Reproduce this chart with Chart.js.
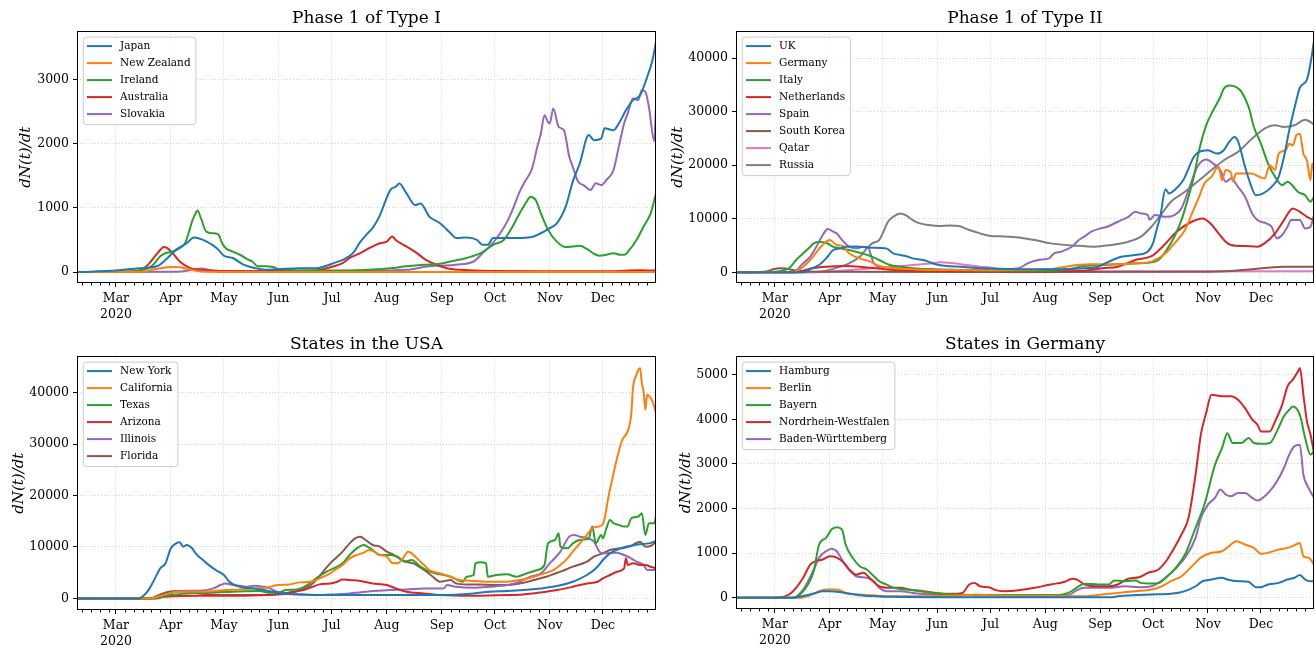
<!DOCTYPE html>
<html>
<head>
<meta charset="utf-8">
<script src="https://cdn.jsdelivr.net/npm/chart.js@4.4.1/dist/chart.umd.min.js"></script>
<style>
  body { margin: 0; background: #fff; }
  #wrap { position: relative; width: 1315px; height: 652px; }
  canvas { position: absolute; }
</style>
</head>
<body>
<div id="wrap">
  <canvas id="c1" width="658" height="326" style="left:0;top:0"></canvas>
  <canvas id="c2" width="655" height="326" style="left:660px;top:0"></canvas>
  <canvas id="c3" width="658" height="326" style="left:0;top:326px"></canvas>
  <canvas id="c4" width="655" height="326" style="left:660px;top:326px"></canvas>
</div>
<script>
// days counted from 1 Jan 2020 (= 0)
const dayMin = 38, dayMax = 365;
const monthStarts = [60, 91, 121, 152, 182, 213, 244, 274, 305, 335];
const monthLabels = [['Mar', '2020'], 'Apr', 'May', 'Jun', 'Jul', 'Aug', 'Sep', 'Oct', 'Nov', 'Dec'];
const colors = ['#1f77b4', '#ff7f0e', '#2ca02c', '#d62728', '#9467bd', '#8c564b', '#e377c2', '#7f7f7f'];

// ---- Phase 1 of Type I ----
const type1Names = ['Japan', 'New Zealand', 'Ireland', 'Australia', 'Slovakia'];
const type1Ticks = [0, 1000, 2000, 3000];
const japan = [[38,0],[60,25],[73,60],[83,90],[88,190],[94,350],[100,450],[104,540],[111,480],[117,373],[121,255],[126,220],[132,115],[139,60],[145,35],[152,45],[164,60],[173,60],[179,100],[183,140],[188,190],[194,300],[198,470],[202,600],[205,690],[209,880],[211,1020],[215,1280],[218,1330],[220,1380],[224,1230],[229,1045],[232,1070],[237,865],[243,760],[249,605],[252,530],[258,540],[264,500],[267,425],[270,425],[273,530],[279,530],[285,530],[296,555],[300,605],[305,685],[309,760],[314,1020],[318,1410],[322,1695],[327,2135],[330,2055],[334,2080],[336,2240],[341,2210],[344,2315],[348,2520],[352,2680],[356,2755],[360,3040],[363,3300],[365,3585]];
const newZealand = [[38,0],[75,5],[81,40],[86,65],[92,80],[96,75],[100,50],[105,20],[111,5],[130,2],[365,3]];
const ireland = [[38,0],[60,5],[73,25],[78,60],[81,115],[85,245],[88,295],[92,320],[96,373],[99,450],[101,605],[103,790],[105,915],[106,960],[108,840],[111,630],[115,605],[118,580],[120,450],[122,373],[126,320],[130,270],[135,190],[137,165],[140,90],[145,90],[149,75],[152,45],[158,35],[164,25],[190,25],[205,40],[215,60],[224,90],[234,115],[243,130],[249,165],[258,220],[266,295],[273,425],[279,500],[284,710],[288,915],[292,1100],[294,1175],[297,1125],[300,915],[304,660],[309,475],[314,390],[318,400],[322,410],[326,360],[330,285],[333,255],[337,270],[341,295],[345,270],[347,270],[350,345],[354,500],[358,710],[362,915],[365,1230]];
const australia = [[38,0],[70,5],[75,45],[79,140],[82,245],[85,345],[87,390],[89,373],[92,295],[96,165],[100,90],[104,45],[111,25],[130,15],[173,25],[179,60],[183,90],[188,140],[192,220],[198,295],[203,373],[209,450],[213,475],[216,555],[218,500],[224,400],[230,295],[235,190],[241,115],[247,60],[254,35],[266,20],[300,15],[340,15],[355,30],[360,25],[365,25]];
const slovakia = [[38,0],[95,5],[102,30],[108,55],[114,30],[120,15],[200,20],[224,35],[237,90],[243,100],[252,115],[262,165],[267,295],[272,425],[277,605],[281,790],[284,970],[288,1255],[291,1410],[295,1615],[298,1955],[300,2160],[302,2445],[304,2340],[305,2315],[307,2550],[310,2265],[313,2210],[316,1800],[318,1640],[321,1410],[324,1355],[328,1280],[331,1385],[334,1355],[337,1435],[341,1590],[344,1955],[347,2315],[349,2470],[352,2705],[355,2680],[357,2835],[359,2810],[361,2575],[364,2040],[365,2550]];

// ---- Phase 1 of Type II ----
const type2Names = ['UK', 'Germany', 'Italy', 'Netherlands', 'Spain', 'South Korea', 'Qatar', 'Russia'];
const type2Ticks = [0, 10000, 20000, 30000, 40000];
const uk = [[38,0],[76,0],[81,750],[85,1370],[89,2600],[93,4160],[97,4470],[100,4780],[106,4800],[115,4600],[123,4470],[127,3540],[131,3230],[134,3040],[138,2600],[144,2300],[151,1490],[157,1180],[165,1050],[172,870],[182,700],[198,560],[216,560],[235,750],[243,1050],[249,2000],[256,2900],[264,3230],[271,3900],[274,5500],[276,8000],[278,10400],[281,15500],[283,14700],[286,15340],[291,17200],[297,21550],[300,22480],[305,22800],[310,22180],[314,22800],[317,24350],[320,25270],[322,24500],[326,19680],[329,16580],[332,14400],[336,14700],[341,15960],[345,17830],[348,21550],[351,26520],[355,32100],[357,34500],[361,36000],[363,38950],[365,43300]];
const germany = [[38,0],[70,0],[76,1050],[80,2300],[83,3540],[87,5100],[91,6030],[95,5100],[99,4780],[102,3540],[108,2600],[114,2000],[119,1180],[127,750],[138,560],[150,430],[182,400],[215,600],[231,1370],[239,1490],[254,1490],[266,1680],[273,2000],[281,3540],[286,5400],[292,7900],[296,11000],[300,14100],[303,16600],[307,17830],[311,19700],[313,17200],[315,19100],[318,18600],[319,17000],[321,18450],[330,18450],[333,18000],[337,17500],[340,20000],[343,19100],[345,22180],[349,22800],[351,24000],[353,23700],[355,25600],[357,25900],[359,22180],[361,20900],[363,17200],[364,20300],[365,19100]];
const italy = [[38,0],[60,100],[64,300],[68,750],[72,2300],[76,3540],[80,4780],[82,5400],[85,5650],[89,5530],[93,4780],[97,4470],[102,4160],[108,3660],[114,3040],[119,2300],[125,1370],[131,1050],[138,750],[149,560],[165,430],[182,310],[215,300],[226,560],[235,1180],[245,1370],[254,1490],[264,1680],[271,1800],[277,2300],[281,3850],[286,6650],[290,9750],[294,14100],[297,17830],[300,22800],[304,27460],[308,30260],[312,32740],[314,34300],[317,34900],[321,34600],[324,33700],[328,30900],[331,27150],[335,24000],[339,20300],[343,17830],[347,16280],[350,16900],[352,16500],[356,15000],[360,14400],[363,13170],[365,14100]];
const netherlands = [[38,0],[72,0],[76,300],[81,750],[89,1050],[100,1180],[108,1050],[117,750],[127,430],[150,250],[200,150],[235,300],[245,750],[254,1050],[264,2300],[273,3000],[280,5000],[287,7500],[295,9300],[302,10060],[306,9260],[311,7270],[315,5720],[318,5100],[326,4900],[333,4780],[337,5400],[343,7270],[348,9750],[353,11930],[357,11300],[361,10370],[365,9750]];
const spain = [[38,0],[70,0],[76,1680],[80,2920],[83,4470],[86,6340],[89,7900],[90,8100],[93,7580],[95,7270],[98,6030],[102,4780],[106,4470],[110,4780],[113,4600],[114,3540],[116,1680],[119,1050],[127,750],[146,560],[165,430],[182,500],[198,750],[203,1680],[209,2300],[215,2600],[218,3540],[222,3850],[228,4780],[232,6030],[235,6650],[239,7580],[244,8200],[248,8510],[254,9440],[260,10370],[264,11300],[267,11000],[271,10690],[272,9800],[275,10690],[281,10370],[286,10690],[290,11930],[294,15350],[299,19700],[304,21060],[308,20300],[312,19100],[315,16900],[318,17500],[322,15970],[326,14100],[330,11000],[333,9750],[338,9130],[341,8510],[344,6340],[347,6960],[350,8510],[352,9750],[357,9750],[360,8200],[363,8500],[365,10690]];
const southKorea = [[38,0],[50,50],[55,150],[59,560],[63,750],[66,690],[70,430],[76,190],[90,100],[200,60],[300,80],[311,150],[320,300],[330,560],[339,870],[348,1050],[365,1050]];
const qatar = [[38,0],[80,20],[89,120],[108,560],[127,1050],[138,1370],[149,1680],[153,1860],[161,1680],[168,1370],[176,1050],[182,870],[188,560],[198,300],[215,200],[365,200]];
const russia = [[38,0],[76,0],[89,300],[97,1050],[102,1680],[108,2920],[112,4470],[115,5400],[119,6030],[121,7270],[124,9440],[127,10370],[131,11000],[134,10690],[138,9750],[142,9130],[147,8820],[153,8640],[159,8760],[164,8640],[170,7890],[176,7270],[182,6800],[190,6700],[198,6520],[207,6030],[216,5400],[230,4970],[241,4780],[250,5100],[260,5720],[267,6650],[273,8510],[279,11000],[284,13170],[292,15040],[299,16900],[307,19100],[314,20940],[322,22500],[330,24980],[337,26840],[343,27460],[348,27150],[354,27460],[360,28500],[365,27650]];

// ---- States in the USA ----
const usaNames = ['New York', 'California', 'Texas', 'Arizona', 'Illinois', 'Florida'];
const usaTicks = [0, 10000, 20000, 30000, 40000];
const newYork = [[38,0],[73,0],[76,650],[79,1950],[82,3900],[85,5840],[88,6820],[89,7790],[91,9740],[94,10700],[96,10900],[98,10070],[100,10400],[103,9740],[105,8770],[108,7790],[112,6620],[115,5840],[118,5200],[121,4550],[124,3250],[130,2270],[138,1950],[143,1620],[149,1300],[154,970],[164,780],[183,650],[243,650],[262,970],[271,1300],[281,1430],[290,1620],[300,1950],[309,2400],[318,3250],[326,4550],[332,6170],[335,7470],[339,8770],[345,9740],[351,10260],[356,10520],[361,10700],[365,11170]];
const california = [[38,0],[79,0],[88,780],[94,1300],[107,1300],[115,1430],[122,1620],[130,1750],[138,1950],[145,2080],[151,2600],[158,2730],[164,3120],[170,3250],[175,3900],[181,4870],[185,5840],[188,6500],[192,7790],[196,8440],[200,8900],[203,9420],[206,9090],[209,8440],[213,8120],[216,6900],[219,6820],[222,7790],[225,9090],[227,8770],[230,7790],[234,6500],[237,5520],[243,4870],[249,4220],[254,3570],[258,3500],[262,3380],[271,3250],[281,3250],[288,3570],[296,4220],[302,4870],[307,5520],[311,6500],[315,7790],[318,9090],[322,10700],[326,12340],[329,13640],[332,13960],[335,14420],[336,15590],[338,19480],[340,22730],[343,27270],[346,30850],[349,32470],[351,35720],[352,40910],[354,43510],[356,44810],[357,41890],[358,40260],[359,36690],[360,39610],[363,38310],[365,36040]];
const texas = [[38,0],[83,0],[88,520],[94,780],[100,970],[126,1300],[141,1430],[147,1100],[151,1100],[156,1620],[162,1750],[168,2600],[173,3900],[179,5200],[185,6170],[188,6820],[192,8440],[196,9740],[200,10390],[202,10070],[205,9420],[209,8440],[215,8440],[219,8120],[223,7140],[227,7470],[232,6170],[237,5200],[243,4680],[249,4220],[253,3570],[256,3250],[258,4220],[262,4550],[263,6820],[266,7010],[269,6820],[270,4220],[275,4550],[281,4680],[286,4220],[292,4870],[298,5520],[302,6500],[304,10700],[308,11360],[310,12660],[311,10070],[315,9740],[318,10700],[322,11360],[327,11690],[329,13960],[331,10700],[334,12340],[335,11690],[337,13640],[339,15260],[341,14610],[344,14290],[347,13960],[349,14000],[351,15590],[355,15910],[357,16560],[359,12340],[361,14610],[364,14610],[365,15910]];
const arizona = [[38,0],[80,0],[88,320],[107,520],[126,520],[145,650],[154,970],[160,1300],[166,1620],[171,2270],[175,2730],[181,2920],[185,3250],[188,3700],[192,3570],[198,3380],[205,2920],[213,2600],[218,1950],[224,1300],[234,970],[243,650],[262,520],[281,650],[290,780],[300,1170],[309,1620],[318,2270],[326,2920],[332,3250],[335,3900],[339,4550],[343,5200],[347,5840],[348,7790],[349,6500],[352,6820],[356,6500],[359,6500],[362,6170],[365,5840]];
const illinois = [[38,0],[79,0],[88,780],[94,1300],[100,1500],[107,1500],[115,1950],[119,2600],[122,2920],[126,2600],[130,2470],[134,2270],[138,2470],[143,2270],[147,1950],[151,1300],[156,970],[164,780],[173,650],[183,780],[192,970],[196,1100],[205,1430],[215,1620],[224,1750],[234,1950],[245,1950],[247,2600],[252,2270],[262,2080],[271,2270],[281,2600],[288,3250],[294,4220],[300,4870],[305,6820],[311,9090],[316,12010],[319,12340],[322,12000],[326,11690],[330,11040],[333,9090],[335,8770],[343,8900],[347,8440],[351,7790],[354,7140],[358,6500],[360,5520],[365,5520]];
const florida = [[38,0],[79,0],[85,780],[90,1300],[94,1430],[100,1300],[107,970],[115,780],[126,650],[141,650],[152,780],[158,970],[164,1620],[170,2600],[173,3570],[177,5200],[181,6820],[185,8120],[188,9090],[192,10700],[195,11690],[198,12010],[201,11360],[205,10390],[209,10070],[213,9090],[217,8440],[220,7790],[224,7140],[228,6820],[234,5520],[239,4220],[243,3250],[249,3570],[252,2920],[258,2730],[266,2730],[273,2600],[281,2600],[288,2920],[296,3570],[303,4220],[311,5200],[318,6170],[326,7140],[330,8120],[335,8770],[339,9420],[345,9740],[350,10070],[356,11040],[359,10070],[362,10200],[365,11040]];

// ---- States in Germany ----
const deNames = ['Hamburg', 'Berlin', 'Bayern', 'Nordrhein-Westfalen', 'Baden-Württemberg'];
const deTicks = [0, 1000, 2000, 3000, 4000, 5000];
const hamburg = [[38,0],[70,0],[78,60],[83,110],[87,150],[91,150],[95,135],[100,110],[108,60],[117,37],[127,22],[150,15],[250,15],[254,37],[273,75],[284,90],[292,150],[298,260],[302,373],[307,410],[313,450],[316,410],[322,373],[328,360],[332,240],[335,240],[339,300],[345,335],[350,410],[354,450],[357,510],[360,410],[363,373],[365,373]];
const berlin = [[38,0],[74,0],[82,90],[85,150],[89,185],[93,185],[97,165],[100,110],[108,75],[117,52],[127,37],[146,37],[165,52],[174,75],[182,50],[235,37],[245,75],[254,110],[264,150],[273,185],[279,260],[284,373],[290,485],[296,710],[301,900],[307,1010],[313,1045],[317,1160],[321,1270],[326,1195],[331,1120],[335,985],[339,1010],[345,1080],[350,1120],[353,1160],[357,1230],[359,930],[362,900],[365,745]];
const bayern = [[38,0],[70,0],[76,150],[82,600],[85,1195],[89,1345],[92,1530],[95,1580],[98,1530],[100,1195],[104,900],[108,710],[112,635],[116,485],[119,373],[123,300],[127,225],[134,185],[142,150],[149,110],[161,75],[174,60],[220,60],[226,110],[232,260],[235,315],[243,300],[249,300],[252,390],[258,373],[264,390],[267,335],[273,320],[277,330],[282,485],[286,635],[292,970],[298,1570],[303,2090],[309,2985],[313,3360],[316,3690],[319,3470],[324,3470],[328,3580],[331,3470],[335,3450],[340,3470],[344,3730],[348,4070],[351,4215],[353,4290],[357,4100],[360,3580],[363,3210],[365,3280]];
const nrw = [[38,0],[62,10],[68,75],[72,225],[76,450],[80,745],[83,820],[87,860],[91,930],[95,900],[99,785],[102,635],[106,520],[110,560],[114,430],[119,260],[125,225],[131,225],[136,185],[144,150],[151,110],[159,90],[166,110],[170,300],[173,335],[176,260],[182,225],[184,185],[190,150],[198,170],[207,225],[216,300],[224,360],[228,430],[231,410],[235,300],[241,260],[249,260],[254,300],[260,430],[266,460],[271,560],[277,635],[282,860],[286,1120],[290,1420],[294,1790],[298,2760],[301,3660],[304,4140],[307,4550],[313,4515],[318,4515],[322,4440],[326,4250],[330,4000],[333,3880],[335,3730],[340,3730],[343,3955],[347,4330],[350,4740],[353,4890],[356,5075],[357,5150],[359,4550],[361,3955],[363,3660],[365,3250]];
const badenW = [[38,0],[70,0],[76,185],[82,635],[85,900],[89,1045],[92,1100],[95,1045],[99,785],[102,635],[106,485],[112,450],[116,373],[119,225],[123,150],[131,150],[138,110],[149,75],[165,60],[226,60],[230,150],[235,225],[243,225],[250,225],[258,260],[266,240],[273,260],[277,335],[282,485],[287,670],[292,900],[298,1345],[301,1790],[305,2090],[309,2240],[312,2425],[315,2315],[318,2275],[322,2350],[326,2350],[330,2240],[333,2180],[336,2240],[340,2390],[344,2610],[348,2910],[351,3210],[354,3400],[357,3430],[359,2760],[362,2460],[365,2240]];

// minor ticks every 5 days inside each month
const minorDays = [];
[31, ...monthStarts].forEach((s, i, arr) => {
  const len = (i < arr.length - 1 ? arr[i + 1] : 366) - s;
  [5, 10, 15, 20, 25].forEach(o => {
    if (o < len && s + o >= dayMin && s + o <= dayMax) minorDays.push(s + o);
  });
});

Chart.defaults.font.family = "'DejaVu Serif', serif";
Chart.defaults.color = '#000';

// frame, minor ticks and legend box drawn like matplotlib
const mplLook = {
  id: 'mplLook',
  afterDatasetsDraw(chart) {
    const ctx = chart.ctx, a = chart.chartArea, xs = chart.scales.x;
    ctx.save();
    ctx.strokeStyle = '#000';
    ctx.lineWidth = 1;
    ctx.beginPath();
    minorDays.forEach(d => {
      const px = Math.round(xs.getPixelForValue(d)) + 0.5;
      ctx.moveTo(px, a.bottom);
      ctx.lineTo(px, a.bottom + 2.5);
    });
    ctx.stroke();
    ctx.strokeRect(Math.round(a.left) + 0.5, Math.round(a.top) + 0.5,
      Math.round(a.right - a.left) - 1, Math.round(a.bottom - a.top) - 1);
    ctx.restore();
  },
  afterDraw(chart) {
    const ctx = chart.ctx, a = chart.chartArea, sets = chart.data.datasets;
    ctx.save();
    ctx.font = "10.5px 'DejaVu Serif'";
    const tw = Math.max(...sets.map(s => ctx.measureText(s.label).width));
    const x0 = a.left + 6.3, y0 = a.top + 5.7;
    const w = 37 + tw + 5, h = 17 * (sets.length - 1) + 19.5;
    ctx.beginPath();
    ctx.roundRect(x0, y0, w, h, 3);
    ctx.fillStyle = 'rgba(255,255,255,0.8)';
    ctx.fill();
    ctx.strokeStyle = '#cccccc';
    ctx.lineWidth = 1;
    ctx.stroke();
    ctx.textBaseline = 'middle';
    sets.forEach((s, i) => {
      const y = y0 + 9 + 17 * i;
      ctx.strokeStyle = s.borderColor;
      ctx.lineWidth = 2;
      ctx.beginPath();
      ctx.moveTo(x0 + 3.7, y);
      ctx.lineTo(x0 + 28.7, y);
      ctx.stroke();
      ctx.fillStyle = '#000';
      ctx.fillText(s.label, x0 + 36.7, y);
    });
    ctx.restore();
  }
};

function panel(id, title, names, series, yTicks, yMin, yMax, cfg) {
  new Chart(document.getElementById(id), {
    type: 'line',
    data: {
      datasets: series.map((s, i) => ({
        label: names[i],
        data: s,
        borderColor: colors[i],
        backgroundColor: colors[i],
        borderWidth: 2,
        pointRadius: 0,
        fill: false,
        cubicInterpolationMode: 'monotone'
      }))
    },
    options: {
      responsive: false,
      animation: false,
      layout: { padding: { left: 0, top: 0, bottom: 0, right: cfg.padRight } },
      plugins: {
        legend: { display: false },
        tooltip: { enabled: false },
        title: {
          display: true, text: title, fullSize: false, color: '#000',
          font: { size: 17, weight: 'normal' },
          padding: { top: 8, bottom: cfg.titleBottom }
        }
      },
      scales: {
        x: {
          type: 'linear', min: dayMin, max: dayMax,
          afterBuildTicks: s => { s.ticks = monthStarts.map(v => ({ value: v })); },
          afterFit: s => { s.height = cfg.xHeight; },
          ticks: {
            autoSkip: false, maxRotation: 0, padding: 3,
            font: { size: 12.5, lineHeight: 1.33 },
            callback: (v, i) => monthLabels[i]
          },
          grid: { color: '#c4c4c4', lineWidth: 0.8, tickColor: '#000', tickLength: 4, tickWidth: 1 },
          border: { display: false, dash: [1, 2] }
        },
        y: {
          type: 'linear', min: yMin, max: yMax,
          afterBuildTicks: s => { s.ticks = yTicks.map(v => ({ value: v })); },
          afterFit: s => { s.width = cfg.yWidth; },
          ticks: { padding: 4, font: { size: 12.5 }, callback: v => String(v) },
          grid: { color: '#c4c4c4', lineWidth: 0.8, tickColor: '#000', tickLength: 4, tickWidth: 1 },
          border: { display: false, dash: [1, 2] },
          title: {
            display: true, text: 'dN(t)/dt', color: '#000',
            font: { size: 15, style: 'italic' },
            padding: { top: cfg.yTitlePad, bottom: 0 }
          }
        }
      }
    },
    plugins: [mplLook]
  });
}

panel('c1', 'Phase 1 of Type I', type1Names,
  [japan, newZealand, ireland, australia, slovakia], type1Ticks, -170, 3750,
  { padRight: 2, titleBottom: 3, xHeight: 43, yWidth: 77, yTitlePad: 17 });
panel('c2', 'Phase 1 of Type II', type2Names,
  [uk, germany, italy, netherlands, spain, southKorea, qatar, russia], type2Ticks, -2000, 45000,
  { padRight: 1, titleBottom: 3, xHeight: 43, yWidth: 76, yTitlePad: 9 });
panel('c3', 'States in the USA', usaNames,
  [newYork, california, texas, arizona, illinois, florida], usaTicks, -2250, 47050,
  { padRight: 2, titleBottom: 2, xHeight: 42, yWidth: 77, yTitlePad: 10 });
panel('c4', 'States in Germany', deNames,
  [hamburg, berlin, bayern, nrw, badenW], deTicks, -250, 5410,
  { padRight: 1, titleBottom: 2, xHeight: 43, yWidth: 76, yTitlePad: 17 });
</script>
</body>
</html>
